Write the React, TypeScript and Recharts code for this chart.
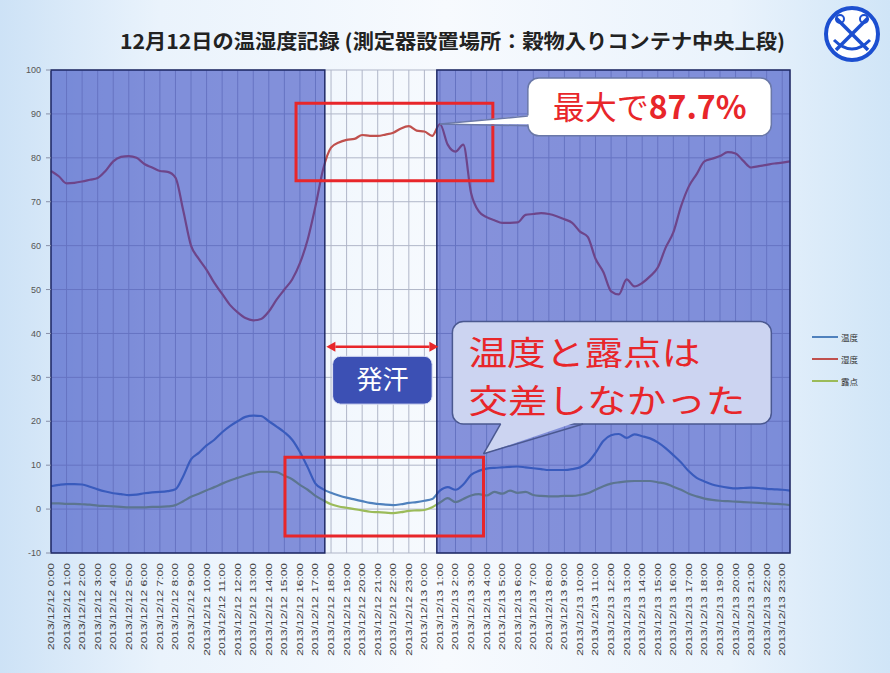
import React from "react";
import { LineChart, Line, XAxis, YAxis, CartesianGrid, ReferenceArea, ReferenceLine } from "recharts";

// series and axis data (readings every 30 min, 2013/12/12 0:00 - 2013/12/13 23:30)
const seriesKeys = ["temp", "hum", "dew"];
const seriesNames = ["温度", "湿度", "露点"];
const seriesColors = ["#4F81BD", "#C0504D", "#9BBB59"];
const days = ["2013/12/12", "2013/12/13"];
const tickLabels = days.flatMap((d) => Array.from({ length: 24 }, (_, h) => `${d} ${h}:00`));
const hourTicks = tickLabels.map((_, i) => i);
const times = Array.from({ length: 96 }, (_, i) => i / 2);
const yTicks = [-10, 0, 10, 20, 30, 40, 50, 60, 70, 80, 90, 100];

// 温度
const temperature = [
  5.2, 5.5, 5.7, 5.7, 5.6, 5.1, 4.5, 4.0, 3.6, 3.4, 3.2, 3.3, 3.6, 3.8, 3.9, 4.1,
  4.5, 7.5, 11.3, 12.8, 14.5, 15.8, 17.5, 18.9, 20.0, 21.0, 21.3, 21.2, 20.0, 18.8, 17.5, 15.8,
  13.0, 9.5, 5.8, 4.5, 3.7, 3.1, 2.6, 2.2, 1.8, 1.4, 1.2, 1.0, 0.9, 1.1, 1.4, 1.6,
  1.9, 2.3, 4.2, 5.0, 4.4, 5.6, 7.8, 8.7, 9.2, 9.4, 9.5, 9.6, 9.7, 9.5, 9.3, 9.1,
  8.9, 8.9, 8.9, 9.1, 9.5, 10.6, 12.8, 15.5, 16.8, 17.1, 16.2, 17.0, 16.6, 16.1, 15.2, 13.9,
  12.3, 10.6, 8.6, 7.1, 6.3, 5.6, 5.2, 4.9, 4.7, 4.8, 4.9, 4.8, 4.6, 4.5, 4.4, 4.2,
];

// 湿度
const humidity = [
  77.0, 75.8, 74.2, 74.3, 74.6, 75.0, 75.4, 77.0, 79.2, 80.2, 80.4, 80.0, 78.6, 77.8, 77.0, 76.8,
  75.5, 68.0, 60.0, 57.0, 54.5, 51.5, 49.0, 46.5, 44.8, 43.5, 43.0, 43.3, 45.0, 47.7, 50.0, 52.3,
  56.0, 61.4, 69.0, 77.5, 82.3, 83.5, 84.1, 84.3, 85.2, 85.0, 85.0, 85.3, 85.7, 86.7, 87.2, 86.2,
  86.0, 85.0, 87.7, 83.0, 81.4, 83.0, 72.0, 67.8, 66.5, 65.8, 65.2, 65.2, 65.3, 67.0, 67.2, 67.4,
  67.2, 66.7, 66.0, 65.2, 63.2, 62.0, 57.0, 54.0, 49.6, 48.9, 52.3, 50.7, 51.5, 53.0, 55.0, 59.5,
  63.0, 69.0, 73.5, 76.3, 79.2, 79.8, 80.4, 81.3, 81.0, 79.3, 77.8, 78.1, 78.4, 78.7, 78.9, 79.2,
];

// 露点
const dewPoint = [
  1.3, 1.3, 1.2, 1.2, 1.1, 1.0, 0.8, 0.7, 0.6, 0.5, 0.4, 0.4, 0.4, 0.5, 0.5, 0.6,
  0.9, 1.8, 2.8, 3.5, 4.3, 5.0, 5.8, 6.5, 7.1, 7.7, 8.2, 8.5, 8.5, 8.4, 7.6, 6.8,
  5.5, 4.4, 3.0, 2.0, 1.1, 0.6, 0.3, 0.0, -0.3, -0.6, -0.7, -0.8, -0.9, -0.7, -0.4, -0.3,
  -0.2, 0.4, 1.5, 2.5, 1.6, 2.3, 3.1, 3.4, 3.1, 3.9, 3.5, 4.2, 3.7, 3.9, 3.2, 3.0,
  2.9, 2.9, 3.0, 3.0, 3.2, 3.6, 4.4, 5.2, 5.8, 6.1, 6.3, 6.4, 6.4, 6.4, 6.1, 5.8,
  5.1, 4.4, 3.5, 2.9, 2.4, 2.1, 1.9, 1.8, 1.7, 1.6, 1.5, 1.4, 1.3, 1.2, 1.1, 0.9,
];

const data = times.map((t, i) => ({ t, temp: temperature[i], hum: humidity[i], dew: dewPoint[i] }));

const RED = "#e8262a";
const CJK = "'Noto Sans CJK JP', sans-serif";

type Box = { x1: number; x2: number; y1: number; y2: number };
type Pt = { x: number; y: number };

// callout balloon drawn inside a ReferenceArea; tail positions are converted with the area's own scale
function callout(box: Box, tip: Pt, base: [Pt, Pt], fill: string, stroke: string, content: (b: any) => React.ReactNode) {
  return (p: any) => {
    const sx = p.width / (box.x2 - box.x1);
    const sy = p.height / (box.y2 - box.y1);
    const px = (v: number) => p.x + (v - box.x1) * sx;
    const py = (v: number) => p.y + (box.y2 - v) * sy;
    const t = { x: px(tip.x), y: py(tip.y) };
    const b0 = { x: px(base[0].x), y: py(base[0].y) };
    const b1 = { x: px(base[1].x), y: py(base[1].y) };
    const cx = p.x + p.width / 2;
    const inset = (q: Pt) => ({ x: q.x + (cx - q.x) * 0.02, y: q.y + (p.y + p.height / 2 - q.y) * 0.08 });
    const i0 = inset(b0);
    const i1 = inset(b1);
    return (
      <g>
        <rect x={p.x} y={p.y} width={p.width} height={p.height} rx={11} fill={fill} stroke={stroke} strokeWidth={1.5} />
        <polygon points={`${i0.x},${i0.y} ${t.x},${t.y} ${i1.x},${i1.y}`} fill={fill} />
        <line x1={b0.x} y1={b0.y} x2={t.x} y2={t.y} stroke={stroke} strokeWidth={1.5} />
        <line x1={b1.x} y1={b1.y} x2={t.x} y2={t.y} stroke={stroke} strokeWidth={1.5} />
        {content(p)}
      </g>
    );
  };
}

const maxBox: Box = { x1: 30.65, x2: 46.3, y1: 85, y2: 98.2 };
const crossBox: Box = { x1: 25.8, x2: 46.3, y1: 19.4, y2: 42.7 };
const sweatBox: Box = { x1: 18.1, x2: 24.5, y1: 23.9, y2: 34.8 };

const maxShape = callout(
  maxBox,
  { x: 25, y: 87.7 },
  [{ x: 30.65, y: 89.5 }, { x: 30.65, y: 87.3 }],
  "#ffffff",
  "#6a78a8",
  (p) => (
    <text x={p.x + p.width / 2} y={p.y + p.height / 2 + 12} textAnchor="middle" fill={RED} fontSize={32} fontFamily={CJK}>
      最大で<tspan fontWeight="bold">87.7%</tspan>
    </text>
  )
);

const crossShape = callout(
  crossBox,
  { x: 27.8, y: 12.6 },
  [{ x: 28.9, y: 19.4 }, { x: 34.2, y: 19.4 }],
  "#ccd4f1",
  "#4a5890",
  (p) => (
    <g fill={RED} fontSize={33} fontFamily={CJK}>
      <text x={p.x + 16} y={p.y + 43} textLength={232} lengthAdjust="spacingAndGlyphs">
        温度と露点は
      </text>
      <text x={p.x + 16} y={p.y + 91} textLength={277} lengthAdjust="spacingAndGlyphs">
        交差しなかった
      </text>
    </g>
  )
);

const sweatShape = (p: any) => (
  <g>
    <rect x={p.x} y={p.y} width={p.width} height={p.height} rx={8} fill="#3c50b4" stroke="#dfe4f5" strokeWidth={1} />
    <text x={p.x + p.width / 2} y={p.y + p.height / 2 + 9} textAnchor="middle" fill="#ffffff" fontSize={26} fontFamily={CJK}>
      発汗
    </text>
  </g>
);

const arrowShape = (p: any) => {
  const { x1, y1, x2, y2 } = p;
  const a = 9;
  const w = 5;
  return (
    <g>
      <line x1={x1 + a} y1={y1} x2={x2 - a} y2={y2} stroke={RED} strokeWidth={2.5} />
      <polygon points={`${x1},${y1} ${x1 + a},${y1 - w} ${x1 + a},${y1 + w}`} fill={RED} />
      <polygon points={`${x2},${y2} ${x2 - a},${y2 - w} ${x2 - a},${y2 + w}`} fill={RED} />
    </g>
  );
};

const XTick = (p: any) => {
  const { x, y, payload } = p;
  const label = tickLabels[payload.value];
  return (
    <text
      x={x}
      y={y}
      transform={`rotate(-90 ${x} ${y})`}
      textAnchor="end"
      dx={-2}
      dy="0.35em"
      fontSize={8.5}
      textLength={label.length * 5.8}
      lengthAdjust="spacingAndGlyphs"
      fill="#444"
      fontFamily="'Liberation Sans', Arial, sans-serif"
    >
      {label}
    </text>
  );
};

export default function App() {
  return (
    <div
      style={{
        position: "absolute",
        left: 0,
        top: 0,
        width: 890,
        height: 673,
        overflow: "hidden",
        background: "linear-gradient(90deg, #cde2f6 0%, #eaf3fc 18%, #f7fafe 50%, #eaf3fc 82%, #d0e5f7 100%)",
      }}
    >
      <svg width={890} height={70} style={{ position: "absolute", left: 0, top: 0 }}>
        <text
          x={120}
          y={49}
          textLength={665}
          lengthAdjust="spacingAndGlyphs"
          fontSize={20}
          fontWeight="bold"
          fill="#222"
          fontFamily={CJK}
        >
          12月12日の温湿度記録 (測定器設置場所：穀物入りコンテナ中央上段)
        </text>
        <g>
          <circle cx={852} cy={34} r={26} fill="#ffffff" stroke="#1c4fd0" strokeWidth={4} />
          <line x1={836} y1={18} x2={868} y2={50} stroke="#1c4fd0" strokeWidth={3.5} />
          <line x1={868} y1={18} x2={836} y2={50} stroke="#1c4fd0" strokeWidth={3.5} />
          <circle cx={840} cy={19} r={4} fill="none" stroke="#1c4fd0" strokeWidth={2} />
          <circle cx={864} cy={19} r={4} fill="none" stroke="#1c4fd0" strokeWidth={2} />
          <path d="M834 40 Q852 58 870 40" fill="none" stroke="#1c4fd0" strokeWidth={3} />
        </g>
      </svg>

      <div style={{ position: "absolute", left: 0, top: 0 }}>
        <LineChart width={890} height={673} data={data} margin={{ top: 70, right: 100, bottom: 20, left: 21 }}>
          <CartesianGrid stroke="#b0b6c8" strokeWidth={1} vertical horizontal />
          <XAxis
            dataKey="t"
            type="number"
            domain={[0, 47.5]}
            ticks={hourTicks}
            interval={0}
            height={100}
            tick={<XTick />}
            tickLine={false}
            axisLine={false}
          />
          <YAxis
            type="number"
            domain={[-10, 100]}
            ticks={yTicks}
            interval={0}
            width={30}
            tickSize={5}
            tickLine={{ stroke: "#8890a8" }}
            axisLine={false}
            tick={{ fontSize: 9, fill: "#555", fontFamily: "'Liberation Sans', Arial, sans-serif", dx: -3 }}
          />
          {seriesKeys.map((k, i) => (
            <Line
              key={k}
              dataKey={k}
              name={seriesNames[i]}
              stroke={seriesColors[i]}
              strokeWidth={2.2}
              dot={false}
              type="monotone"
              isAnimationActive={false}
            />
          ))}
          <ReferenceArea x1={0} x2={17.6} y1={-10} y2={100} fill="#283cbe" fillOpacity={0.55} stroke="#1f2a66" strokeWidth={1.5} zIndex={450} />
          <ReferenceArea x1={24.8} x2={47.5} y1={-10} y2={100} fill="#283cbe" fillOpacity={0.55} stroke="#1f2a66" strokeWidth={1.5} zIndex={450} />
          <ReferenceArea x1={15.75} x2={28.4} y1={74.8} y2={92.4} fill="none" stroke={RED} strokeWidth={3} ifOverflow="visible" zIndex={1500} />
          <ReferenceArea x1={15.04} x2={27.8} y1={-6.1} y2={11.8} fill="none" stroke={RED} strokeWidth={3} ifOverflow="visible" zIndex={1500} />
          <ReferenceLine segment={[{ x: 17.7, y: 37 }, { x: 24.9, y: 37 }]} shape={arrowShape} ifOverflow="visible" zIndex={1500} />
          <ReferenceArea {...sweatBox} shape={sweatShape} ifOverflow="visible" zIndex={1500} />
          <ReferenceArea {...maxBox} shape={maxShape} ifOverflow="visible" zIndex={1600} />
          <ReferenceArea {...crossBox} shape={crossShape} ifOverflow="visible" zIndex={1600} />
        </LineChart>
      </div>

      <div style={{ position: "absolute", left: 812, top: 326, fontFamily: CJK, fontSize: 8.5, color: "#333" }}>
        {seriesNames.map((n, i) => (
          <div key={n} style={{ display: "flex", alignItems: "center", height: 22 }}>
            <div style={{ width: 26, height: 2, background: seriesColors[i], marginRight: 3 }} />
            <span>{n}</span>
          </div>
        ))}
      </div>
    </div>
  );
}
